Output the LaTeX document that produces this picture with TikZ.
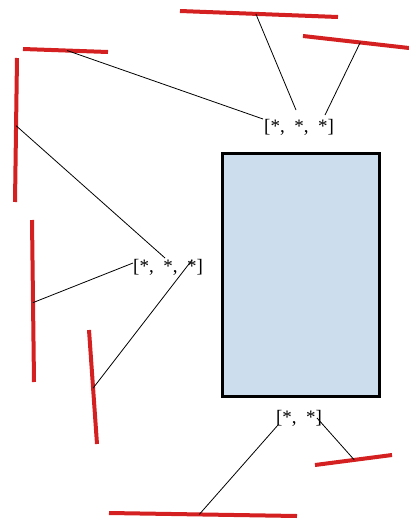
\documentclass[tikz,border=0pt]{standalone}
\usepackage{fontspec}
\setmainfont{Liberation Serif}
\usetikzlibrary{positioning}
\definecolor{cbar}{HTML}{D42020}
\definecolor{cfill}{HTML}{CCDDEE}
\newcommand{\tsep}{,\hspace{0.5em}}
\tikzset{
  bar/.style={draw=cbar, line width=4pt},
  link/.style={draw=black, line width=0.8pt},
  tuple/.style={font=\fontsize{19}{21}\selectfont, inner sep=1pt},
  panel/.style={draw=black, fill=cfill, line width=3pt, inner sep=0pt},
}

\begin{document}
\begin{tikzpicture}[x=1pt, y=-1pt]
  \useasboundingbox (0,0) rectangle (409,525);
  % the box
  \node[panel, minimum width=157pt, minimum height=243pt] (panel) at (300.5,275) {};
  % red bars
  \draw[bar] (180,11) -- (338,17) coordinate[pos=0.48] (top);
  \draw[bar] (303,36) -- (409,48) coordinate[pos=0.54] (topright);
  \draw[bar] (23,49) -- (108,52) coordinate[pos=0.52] (lefttop);
  \draw[bar] (17,58) -- (15,202) coordinate[pos=0.47] (leftlong);
  \draw[bar] (32,220) -- (34,382) coordinate[pos=0.51] (leftmid);
  \draw[bar] (89,330) -- (97,444) coordinate[pos=0.51] (lefttilt);
  \draw[bar] (315,465) -- (392,455) coordinate[pos=0.51] (botright);
  \draw[bar] (109,513) -- (297,516) coordinate[pos=0.48] (bottom);
  % tuples
  \node[tuple] (upper) at (299,127) {[*\tsep*\tsep*]};
  \node[tuple] (middle) at (168,267) {[*\tsep*\tsep*]};
  \node[tuple] (lower) at (299,418) {[*\tsep*]};
  % links
  \draw[link] (top) -- ([shift={(-3,-17)}]upper.center);
  \draw[link] (topright) -- ([shift={(26,-12)}]upper.center);
  \draw[link] (lefttop) -- ([shift={(-36,-8)}]upper.center);
  \draw[link] (leftlong) -- ([shift={(-3,-9)}]middle.center);
  \draw[link] (leftmid) -- ([shift={(-35,-4)}]middle.center);
  \draw[link] (lefttilt) -- ([shift={(24,-7)}]middle.center);
  \draw[link] (bottom) -- ([shift={(-21,7)}]lower.center);
  \draw[link] ([shift={(18,0)}]lower.center) -- (botright);
\end{tikzpicture}
\end{document}
